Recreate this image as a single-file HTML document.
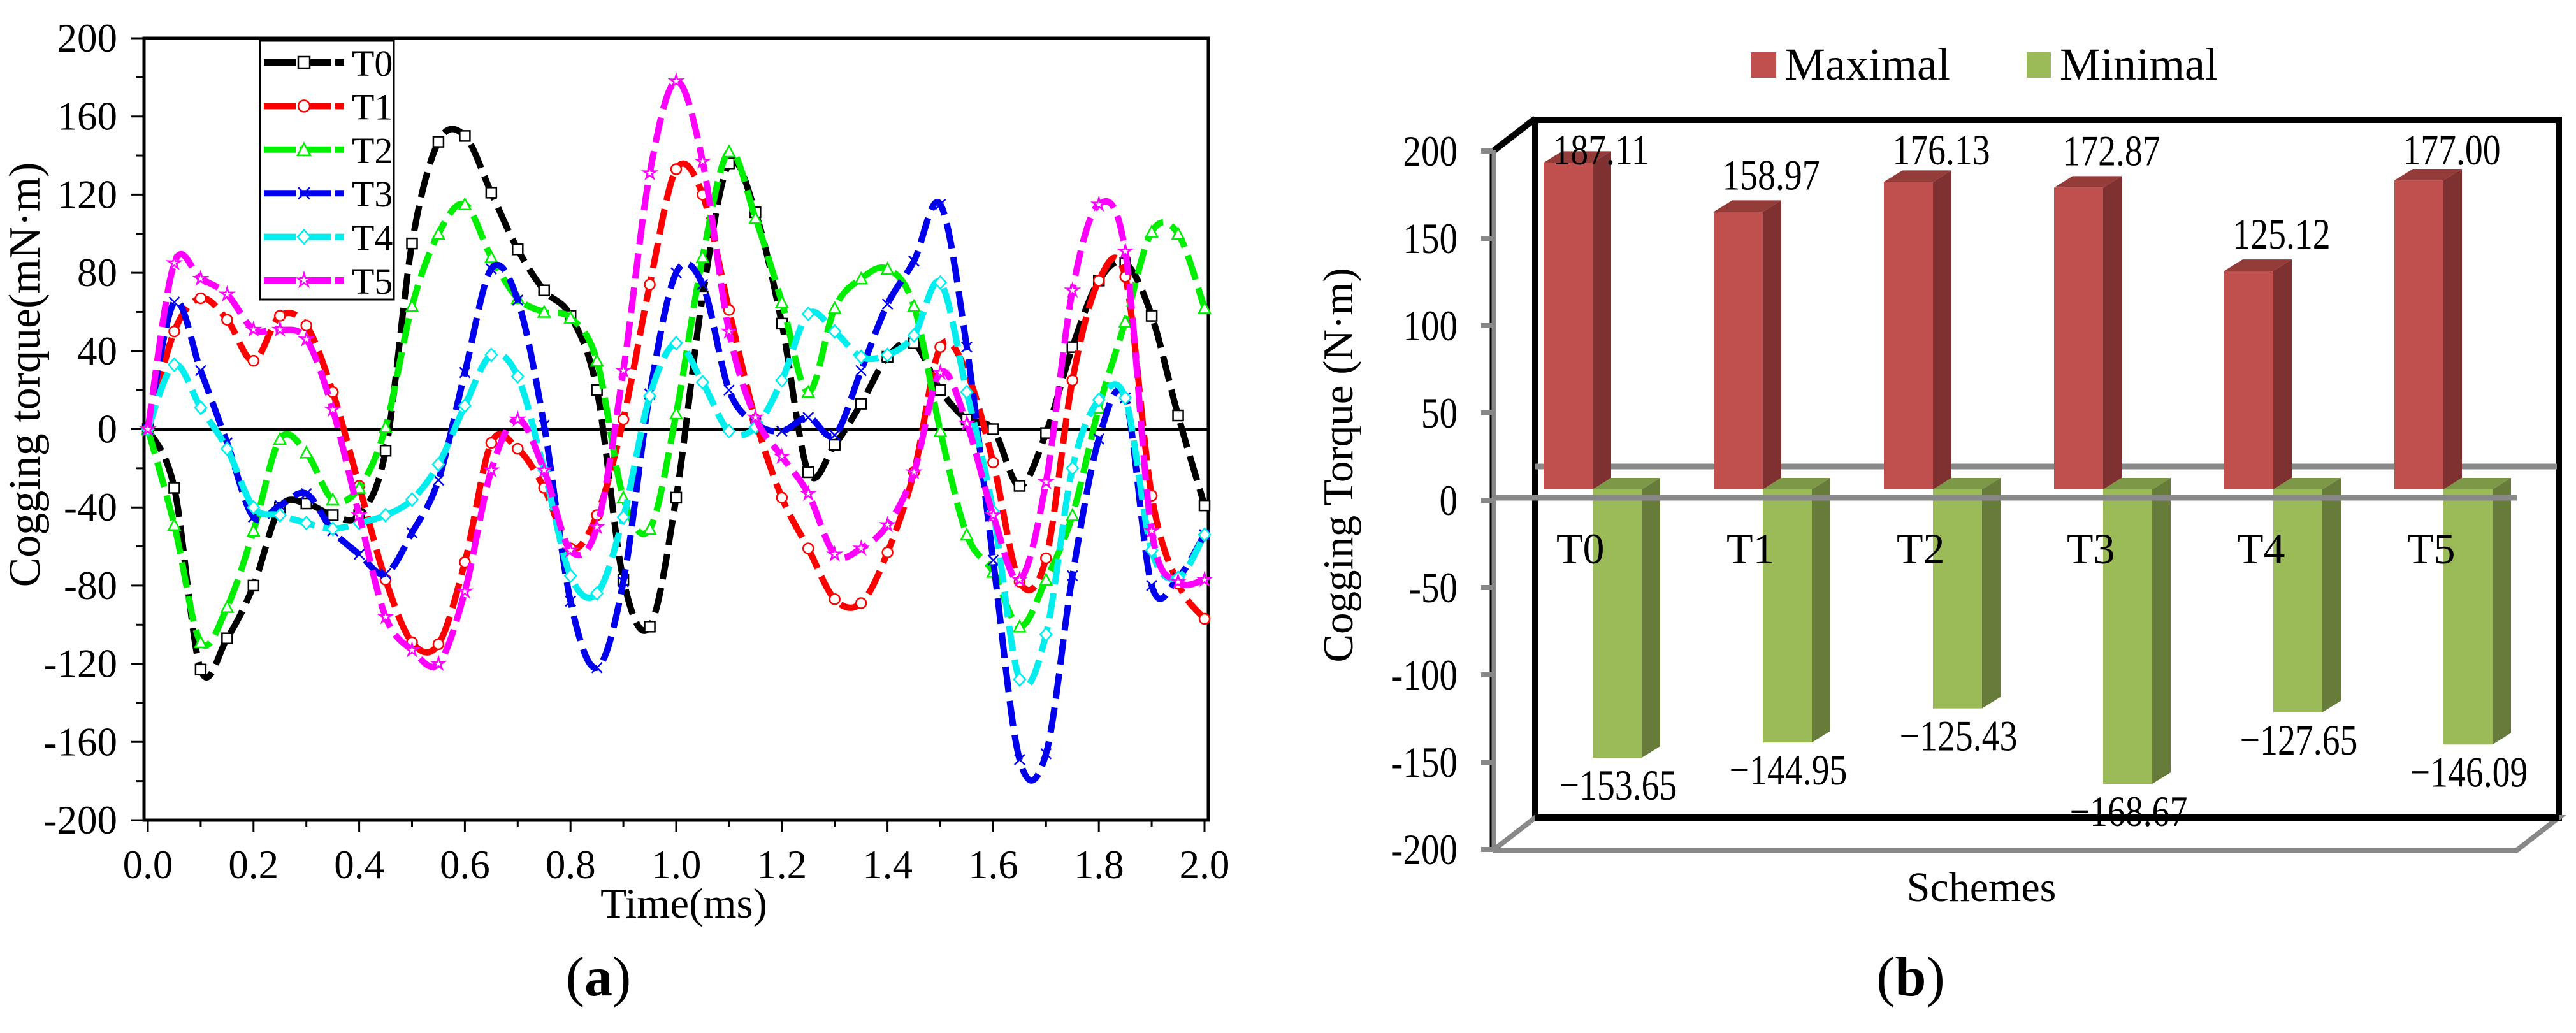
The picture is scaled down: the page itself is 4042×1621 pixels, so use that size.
<!DOCTYPE html>
<html><head><meta charset="utf-8"><style>
html,body{margin:0;padding:0;background:#fff;}
svg{display:block;font-family:"Liberation Serif",serif;}
</style></head><body>
<svg id="fig" width="4042" height="1621" viewBox="0 0 4042 1621" xmlns="http://www.w3.org/2000/svg">
<g id="chartA"></g>
<g id="chartB"></g>
</svg>
<script>
// ---------- Chart (a) data ----------
const timeMs = [0,0.05,0.1,0.15,0.2,0.25,0.3,0.35,0.4,0.45,0.5,0.55,0.6,0.65,0.7,0.75,0.8,0.85,0.9,0.95,1.0,1.05,1.1,1.15,1.2,1.25,1.3,1.35,1.4,1.45,1.5,1.55,1.6,1.65,1.7,1.75,1.8,1.85,1.9,1.95,2.0];
const seriesNames = ["T0","T1","T2","T3","T4","T5"];
const t0 = [0,-30,-123,-107,-80,-40,-38,-44,-44,-11,95,147,150,121,92,71,58,20,-77,-101,-35,68,136,111,54,-22,-8,13,37,44,20,5,0,-29,-2,42,76,85,58,7,-39];
const t1 = [0,50,67,56,35,58,53,19,-29,-77,-109,-110,-68,-7,-10,-30,-61,-44,5,74,133,120,61,5,-35,-61,-87,-89,-63,-22,42,29,-17,-78,-66,25,76,78,-34,-79,-97];
const t2 = [0,-49,-109,-91,-52,-5,-12,-36,-30,1,63,100,115,88,67,60,57,35,-35,-51,8,88,142,108,65,19,62,77,82,63,-1,-54,-73,-101,-77,-44,11,55,101,100,62];
const t3 = [0,65,30,-7,-45,-39,-33,-52,-64,-74,-53,-26,29,82,66,2,-88,-122,-78,18,80,74,20,3,-1,6,-3,30,64,86,115,42,-67,-169,-166,-75,-5,16,-80,-76,-54];
const t4 = [0,33,11,-10,-40,-44,-48,-51,-48,-44,-36,-18,12,38,27,-21,-75,-84,-45,17,44,24,-1,1,25,59,50,37,38,48,75,19,-42,-128,-105,-20,15,16,-62,-76,-54];
const t5 = [0,85,77,69,51,51,46,10,-44,-96,-113,-120,-83,-21,5,-21,-62,-50,30,131,178,137,50,6,-14,-33,-64,-61,-49,-22,29,3,-44,-77,-27,71,115,91,-52,-78,-77];
const yTicksA = [200,160,120,80,40,0,-40,-80,-120,-160,-200];
const xTicksA = [0,0.2,0.4,0.6,0.8,1.0,1.2,1.4,1.6,1.8,2.0];

// ---------- Chart (b) data ----------
const schemes = ["T0","T1","T2","T3","T4","T5"];
const maximal = [187.11,158.97,176.13,172.87,125.12,177.00];
const minimal = [-153.65,-144.95,-125.43,-168.67,-127.65,-146.09];
const yTicksB = [200,150,100,50,0,-50,-100,-150,-200];

const NS="http://www.w3.org/2000/svg";
function mk(parent,tag,attrs,text){const e=document.createElementNS(NS,tag);for(const k in attrs)e.setAttribute(k,attrs[k]);if(text!==undefined)e.textContent=text;parent.appendChild(e);return e;}
// condensed text (horizontal squeeze)
function ctext(parent,x,y,anchor,size,sx,str){
  return mk(parent,'text',{x:0,y:0,'text-anchor':anchor,'font-size':size,transform:`translate(${x},${y}) scale(${sx},1)`},str);
}

// ===== Chart A =====
const A=document.getElementById('chartA');
const ax0=232, ax1=1890, ay200=60, aym200=1287;
const xA=v=>ax0+(v-0)/2*(ax1-ax0);
const yA=v=>ay200+(200-v)/400*(aym200-ay200);
const colors=["#000000","#ff0000","#00ee00","#0000ee","#00eeee","#ff00ff"];
const allSeries=[t0,t1,t2,t3,t4,t5];

let frame=mk(A,'rect',{x:226,y:60,width:1670,height:1227,fill:'none',stroke:'#000','stroke-width':5});


let zl=mk(A,'line',{x1:226,x2:1896,y1:yA(0),y2:yA(0),stroke:'#000','stroke-width':5});



for(let v=-200;v<=200;v+=20){
  const major=(v%40===0);
  const t=mk(A,'line',{x1:226,x2:major?206:214,y1:yA(v),y2:yA(v),stroke:'#000','stroke-width':3});
  
  
}
yTicksA.forEach(v=>{
  const t=mk(A,'text',{x:184,y:yA(v)+21,'text-anchor':'end','font-size':63},String(v));
  
  
});
for(let v=0;v<=2.0001;v+=0.1){
  const major=(Math.round(v*10)%2===0);
  const t=mk(A,'line',{x1:xA(v),x2:xA(v),y1:1287,y2:major?1305:1297,stroke:'#000','stroke-width':3});
  
  
}
xTicksA.forEach(v=>{
  const t=mk(A,'text',{x:xA(v),y:1378,'text-anchor':'middle','font-size':63},v.toFixed(1));
  
  
});
let yt=mk(A,'text',{x:0,y:0,'text-anchor':'middle','font-size':70,transform:'translate(62,588) rotate(-90)'},'Cogging torque(mN·m)');


let xt=mk(A,'text',{x:1073,y:1440,'text-anchor':'middle','font-size':67},'Time(ms)');


let la=mk(A,'text',{x:939,y:1562,'text-anchor':'middle','font-size':88});


mk(la,'tspan',{},'(');mk(la,'tspan',{'font-weight':'bold'},'a');mk(la,'tspan',{},')');

function pathFor(vals){
  const pts=vals.map((v,i)=>[xA(timeMs[i]),yA(v)]);
  let d=`M${pts[0][0]},${pts[0][1]}`;
  for(let i=0;i<pts.length-1;i++){
    const p0=pts[Math.max(0,i-1)],p1=pts[i],p2=pts[i+1],p3=pts[Math.min(pts.length-1,i+2)];
    const c1=[p1[0]+(p2[0]-p0[0])/6,p1[1]+(p2[1]-p0[1])/6];
    const c2=[p2[0]-(p3[0]-p1[0])/6,p2[1]-(p3[1]-p1[1])/6];
    d+=` C${c1[0]},${c1[1]} ${c2[0]},${c2[1]} ${p2[0]},${p2[1]}`;
  }
  return d;
}
function marker(g,type,x,y,c,s){
  s=s||8;let e;
  const st={fill:'#fff',stroke:c,'stroke-width':2.5};
  if(type===0) e=mk(g,'rect',Object.assign({x:x-s,y:y-s,width:2*s,height:2*s},st));
  else if(type===1) e=mk(g,'circle',Object.assign({cx:x,cy:y,r:s},st));
  else if(type===2) e=mk(g,'polygon',Object.assign({points:`${x},${y-s-1} ${x-s-1},${y+s} ${x+s+1},${y+s}`},st));
  else if(type===3) e=mk(g,'path',{d:`M${x-s},${y-s}L${x+s},${y+s}M${x+s},${y-s}L${x-s},${y+s}`,stroke:c,'stroke-width':2.5,fill:'none'});
  else if(type===4) e=mk(g,'polygon',Object.assign({points:`${x},${y-s-2} ${x+s+1},${y} ${x},${y+s+2} ${x-s-1},${y}`},st));
  else {let p=[];for(let k=0;k<10;k++){const r=k%2?s*0.45:s+2;const a=-Math.PI/2+k*Math.PI/5;p.push((x+r*Math.cos(a)).toFixed(1)+','+(y+r*Math.sin(a)).toFixed(1));}
    e=mk(g,'polygon',Object.assign({points:p.join(' ')},st));}
  return e;
}
allSeries.forEach((vals,si)=>{
  const g=mk(A,'g',{});
  
  
  const p=mk(g,'path',{d:pathFor(vals),fill:'none',stroke:colors[si],'stroke-width':10,'stroke-dasharray':'40 14','stroke-linecap':'butt'});
  
  
  vals.forEach((v,i)=>{
    const m=marker(g,si,xA(timeMs[i]),yA(v),colors[si]);
    
    
  });
});
const lg=mk(A,'g',{});


mk(lg,'rect',{x:408,y:64,width:210,height:406,fill:'#fff',stroke:'#000','stroke-width':3});
seriesNames.forEach((n,i)=>{
  const y=98+i*68.4;
  const e=mk(lg,'g',{});
  
  
  mk(e,'line',{x1:414,x2:540,y1:y,y2:y,stroke:colors[i],'stroke-width':10,'stroke-dasharray':'50 6'});
  marker(e,i,477,y,colors[i],9);
  mk(e,'text',{x:552,y:y+21,'font-size':58},n);
});

// ===== Chart B =====
const B=document.getElementById('chartB');
const base=768, k=2.74;
const yB=v=>base-v*k;
const axisY=v=>785-v*2.74;
const x0B=2422, step=267, bw=77, sideW=29, dep=18;
let wall=mk(B,'rect',{x:2409,y:188,width:1606,height:1095,fill:'#fff',stroke:'#000','stroke-width':10});


let dg=mk(B,'line',{x1:2342,y1:238,x2:2409,y2:186,stroke:'#000','stroke-width':10});


let bz=mk(B,'line',{x1:2409,y1:732,x2:4012,y2:732,stroke:'#888','stroke-width':9});


let fl=mk(B,'polyline',{points:'2342,1335 2409,1283 4015,1283 3948,1335 2342,1335',fill:'none',stroke:'#888','stroke-width':8});


mk(B,'line',{x1:2409,y1:1283,x2:4015,y2:1283,stroke:'#000','stroke-width':10});
function bar3d(g,x,yTop,yBot,front,side,top){
  mk(g,'polygon',{points:`${x+bw},${yTop} ${x+bw+sideW},${yTop-dep} ${x+bw+sideW},${yBot-dep} ${x+bw},${yBot}`,fill:side});
  mk(g,'polygon',{points:`${x},${yTop} ${x+sideW},${yTop-dep} ${x+bw+sideW},${yTop-dep} ${x+bw},${yTop}`,fill:top});
  mk(g,'rect',{x:x,y:yTop,width:bw,height:yBot-yTop,fill:front});
}
schemes.forEach((s,i)=>{
  const xr=x0B+i*step, xg=xr+bw;
  const gr=mk(B,'g',{});
  
  
  bar3d(gr,xr,yB(maximal[i]),base,'#c0504d','#7f3131','#943c3a');
  const gg=mk(B,'g',{});
  
  
  bar3d(gg,xg,base,yB(minimal[i]),'#9bbb59','#677b3a','#7d9947');
});
let fz=mk(B,'line',{x1:2342,y1:781,x2:3950,y2:781,stroke:'#888','stroke-width':9});


mk(B,'line',{x1:2343,y1:236,x2:2343,y2:1335,stroke:'#888','stroke-width':8});
mk(B,'line',{x1:2339,y1:240,x2:2339,y2:1333,stroke:'#000','stroke-width':3});
yTicksB.forEach(v=>{
  const t=mk(B,'line',{x1:2324,x2:2343,y1:axisY(v),y2:axisY(v),stroke:'#888','stroke-width':8});
  
  
  const l=ctext(B,2287,axisY(v)+23,'end',68,0.84,String(v));
  
  
});
schemes.forEach((s,i)=>{
  const xr=x0B+i*step;
  const c=mk(B,'text',{x:xr+20,y:884,'font-size':68},s);
  
  
  const vm=ctext(B,xr+90,Math.max(258,yB(maximal[i])-35),'middle',68,0.82,maximal[i].toFixed(2));
  
  
  const vn=ctext(B,xr+bw+40,yB(minimal[i])+66,'middle',68,0.82,'\u2212'+Math.abs(minimal[i]).toFixed(2));
  
  
});
let ytb=mk(B,'text',{x:0,y:0,'text-anchor':'middle','font-size':67,transform:'translate(2122,730) rotate(-90)'},'Cogging Torque (N·m)');


let xtb=mk(B,'text',{x:3109,y:1414,'text-anchor':'middle','font-size':66},'Schemes');


let lb=mk(B,'text',{x:2998,y:1562,'text-anchor':'middle','font-size':88});


mk(lb,'tspan',{},'(');mk(lb,'tspan',{'font-weight':'bold'},'b');mk(lb,'tspan',{},')');
const lgb=mk(B,'g',{});


const le1=mk(lgb,'g',{});


mk(le1,'rect',{x:2747,y:82,width:40,height:40,fill:'#c0504d'});
mk(le1,'text',{x:2800,y:125,'font-size':72},'Maximal');
const le2=mk(lgb,'g',{});


mk(le2,'rect',{x:3180,y:82,width:38,height:40,fill:'#9bbb59'});
mk(le2,'text',{x:3232,y:125,'font-size':72},'Minimal');
</script>
</body></html>
